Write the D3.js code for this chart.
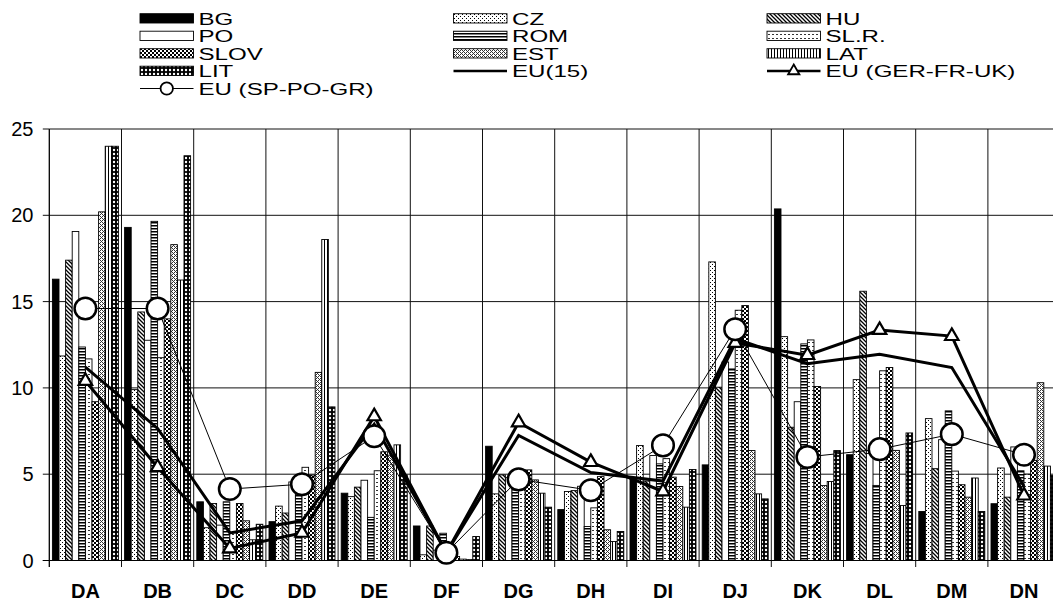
<!DOCTYPE html>
<html><head><meta charset="utf-8">
<script src="https://cdn.jsdelivr.net/npm/d3@7"></script>
<style>
html,body{margin:0;padding:0;background:#fff;}
svg{display:block;font-family:"Liberation Sans",Arial,sans-serif;}
</style></head>
<body>
<svg id="chart" width="1053" height="605"></svg>
<script>
const categories = ["DA","DB","DC","DD","DE","DF","DG","DH","DI","DJ","DK","DL","DM","DN"];
const seriesNames = ["BG","CZ","HU","PO","ROM","SL.R.","SLOV","EST","LAT","LIT"];
const yTicks = [0,5,10,15,20,25];

const BG   = [16.3,19.3,3.4,2.25,3.9,2.0,6.62,2.95,4.73,5.54,20.37,6.13,2.84,3.29];
const CZ   = [11.85,9.9,1.9,3.15,3.7,0.33,3.86,4.0,6.66,17.3,12.97,10.48,8.22,5.36];
const HU   = [17.4,14.4,3.3,2.75,4.25,2.0,4.96,4.05,4.6,10.04,7.72,15.6,5.32,3.67];
const PO   = [19.06,12.76,2.05,4.55,4.65,0.6,4.8,4.3,6.08,11.5,9.2,6.2,7.0,6.58];
const ROM  = [12.37,19.65,3.4,4.2,2.5,1.58,5.0,1.97,5.6,11.1,12.55,4.35,8.67,5.2];
const SLR  = [11.68,11.75,1.6,5.4,5.2,0.5,4.9,3.05,5.9,14.5,12.78,10.99,5.18,5.0];
const SLOV = [9.2,14.0,3.3,4.95,6.3,0.23,5.25,4.86,4.83,14.77,10.08,11.18,4.39,5.8];
const EST  = [20.2,18.3,2.3,10.9,6.1,0.08,4.67,1.78,4.29,6.37,4.34,6.38,3.67,10.3];
const LAT  = [24.0,16.25,1.2,18.6,6.7,0.05,3.9,1.1,3.09,3.86,4.58,3.19,4.78,5.47];
const LIT  = [24.0,23.45,2.1,8.9,4.95,1.39,3.09,1.68,5.27,3.57,6.37,7.39,2.84,4.93];

const EU15   = [11.2,7.65,1.6,2.3,7.9,0.45,7.25,5.1,4.6,12.85,11.4,11.95,11.18,4.3];
const EU_GFU = [10.4,5.4,0.7,1.6,8.35,0.45,8.0,5.7,4.0,12.6,11.9,13.35,13.0,3.76];
const EU_SPG = [14.6,14.6,4.14,4.42,7.2,0.45,4.7,4.07,6.67,13.4,6.0,6.45,7.32,6.13];

const barSeries = [BG,CZ,HU,PO,ROM,SLR,SLOV,EST,LAT,LIT];
const fills = ["#000","url(#pCZ)","url(#pHU)","#fff","url(#pROM)","url(#pSLR)","url(#pSLOV)","url(#pEST)","url(#pLAT)","url(#pLIT)"];

const svg = d3.select("#chart");
const defs = svg.append("defs");
function pat(id,w,h,bg,draw){
  const p = defs.append("pattern").attr("id",id).attr("patternUnits","userSpaceOnUse")
    .attr("width",w).attr("height",h);
  p.append("rect").attr("width",w).attr("height",h).attr("fill",bg);
  draw(p);
}
pat("pCZ",4,4,"#fff",p=>{
  p.append("rect").attr("x",0).attr("y",0).attr("width",1).attr("height",1).attr("fill","#000");
  p.append("rect").attr("x",2).attr("y",2).attr("width",1).attr("height",1).attr("fill","#000");
});
pat("pHU",4,4,"#fff",p=>{
  p.append("path").attr("d","M-1,-1L5,5M-1,3L1,5M3,-1L5,1").attr("stroke","#000").attr("stroke-width",1.3);
});
pat("pROM",3,3,"#fff",p=>{
  p.append("rect").attr("x",0).attr("y",0).attr("width",3).attr("height",1.5).attr("fill","#000");
});
pat("pSLR",4,4,"#fff",p=>{
  p.append("rect").attr("x",0).attr("y",2).attr("width",2).attr("height",0.8).attr("fill","#000");
});
pat("pSLOV",4,4,"#fff",p=>{
  p.append("rect").attr("x",0).attr("y",0).attr("width",2).attr("height",2).attr("fill","#000");
  p.append("rect").attr("x",2).attr("y",2).attr("width",2).attr("height",2).attr("fill","#000");
});
pat("pEST",4,4,"#fff",p=>{
  [[0,0],[1,1],[2,2],[3,3],[2,0],[0,2]].forEach(([x,y])=>
    p.append("rect").attr("x",x).attr("y",y).attr("width",0.9).attr("height",0.9).attr("fill","#000"));
});
pat("pLAT",3,3,"#fff",p=>{
  p.append("rect").attr("x",0).attr("y",0).attr("width",1).attr("height",3).attr("fill","#000");
});
pat("pLIT",4,4,"#000",p=>{
  p.append("circle").attr("cx",2).attr("cy",2).attr("r",1.2).attr("fill","#fff");
});

const x0 = 49.3, bandW = 72.2;
const x = d3.scaleBand().domain(categories).range([x0, x0 + bandW*categories.length]).padding(0);
const xs = d3.scaleBand().domain(seriesNames).range([3.1, bandW-3.1]).padding(0);
const y = d3.scaleLinear().domain([0,25]).range([560.5,129]);

// gridlines
const g = svg.append("g");
g.selectAll("line.h").data(yTicks).enter().append("line")
  .attr("x1",x0).attr("x2",1053).attr("y1",d=>y(d)).attr("y2",d=>y(d))
  .attr("stroke","#111").attr("stroke-width",1);
const bounds = categories.map(c=>x(c));
g.selectAll("line.v").data(bounds).enter().append("line")
  .attr("x1",d=>d).attr("x2",d=>d).attr("y1",y(25)).attr("y2",y(0)+6.5)
  .attr("stroke","#111").attr("stroke-width",1);
// y ticks
g.selectAll("line.yt").data(yTicks).enter().append("line")
  .attr("x1",x0-6.5).attr("x2",x0).attr("y1",d=>y(d)).attr("y2",d=>y(d))
  .attr("stroke","#111");
g.selectAll("text.yl").data(yTicks).enter().append("text")
  .attr("x",33.5).attr("y",d=>y(d)).attr("dy","0.35em").attr("text-anchor","end")
  .attr("font-size",20).text(d=>d);

// bars
const bars = svg.append("g");
barSeries.forEach((vals,si)=>{
  bars.selectAll(null).data(vals).enter().append("rect")
    .attr("x",(d,i)=>x(categories[i])+xs(seriesNames[si]))
    .attr("width",xs.bandwidth())
    .attr("y",d=>y(d))
    .attr("height",d=>y(0)-y(d))
    .attr("fill",fills[si]).attr("stroke","#000").attr("stroke-width",0.9);
});
// baseline
svg.append("line").attr("x1",x0-6.5).attr("x2",1053).attr("y1",y(0)).attr("y2",y(0)).attr("stroke","#000");
svg.append("line").attr("x1",x0).attr("x2",x0).attr("y1",y(25)).attr("y2",y(0)+6.5).attr("stroke","#000");

// category labels
svg.selectAll("text.cat").data(categories).enter().append("text")
  .attr("x",d=>x(d)+bandW/2).attr("y",598).attr("text-anchor","middle")
  .attr("font-size",20).attr("font-weight","bold").text(d=>d);

// lines
const cx = i => x(categories[i]) + bandW/2;
const line = d3.line().x((d,i)=>cx(i)).y(d=>y(d));
svg.append("path").datum(EU15).attr("d",line).attr("fill","none").attr("stroke","#000").attr("stroke-width",3);
svg.append("path").datum(EU_GFU).attr("d",line).attr("fill","none").attr("stroke","#000").attr("stroke-width",3);
svg.append("path").datum(EU_SPG).attr("d",line).attr("fill","none").attr("stroke","#000").attr("stroke-width",1);
const tri = d3.symbol().type(d3.symbolTriangle).size(78);
svg.selectAll(null).data(EU_GFU).enter().append("path")
  .attr("d",tri).attr("transform",(d,i)=>`translate(${cx(i)},${y(d)})`)
  .attr("fill","#fff").attr("stroke","#000").attr("stroke-width",2.2);
svg.selectAll(null).data(EU_SPG).enter().append("circle")
  .attr("cx",(d,i)=>cx(i)).attr("cy",d=>y(d)).attr("r",10.8)
  .attr("fill","#fff").attr("stroke","#000").attr("stroke-width",2.5);

// legend
const legendItems = [
  {name:"BG",type:"bar",fill:fills[0]},{name:"CZ",type:"bar",fill:fills[1]},{name:"HU",type:"bar",fill:fills[2]},
  {name:"PO",type:"bar",fill:fills[3]},{name:"ROM",type:"bar",fill:fills[4]},{name:"SL.R.",type:"bar",fill:fills[5]},
  {name:"SLOV",type:"bar",fill:fills[6]},{name:"EST",type:"bar",fill:fills[7]},{name:"LAT",type:"bar",fill:fills[8]},
  {name:"LIT",type:"bar",fill:fills[9]},{name:"EU(15)",type:"line"},{name:"EU (GER-FR-UK)",type:"tri"},
  {name:"EU (SP-PO-GR)",type:"circ"}
];
const colX = [140,453.5,767];
const swW = 53.5;
const rowBase = [24.5,42,59.5,77,94.5];
const lg = svg.append("g");
legendItems.forEach((it,i)=>{
  const c = i%3, r = Math.floor(i/3);
  const sx = colX[c], b = rowBase[r];
  const mid = b-6;
  if(it.type==="bar"){
    lg.append("rect").attr("x",sx).attr("y",mid-4.8).attr("width",swW).attr("height",9.3)
      .attr("fill",it.fill).attr("stroke","#000").attr("stroke-width",0.9);
  } else {
    lg.append("line").attr("x1",sx).attr("x2",sx+swW).attr("y1",mid).attr("y2",mid)
      .attr("stroke","#000").attr("stroke-width",it.type==="circ"?1.2:2.5);
    if(it.type==="tri") lg.append("path").attr("d",d3.symbol().type(d3.symbolTriangle).size(55))
      .attr("transform",`translate(${sx+swW/2},${mid})`).attr("fill","#fff").attr("stroke","#000").attr("stroke-width",1.8);
    if(it.type==="circ") lg.append("circle").attr("cx",sx+swW/2).attr("cy",mid).attr("r",6.2)
      .attr("fill","#fff").attr("stroke","#000").attr("stroke-width",1.8);
  }
  lg.append("text").attr("transform",`translate(${sx+swW+5},${b}) scale(1.46,1)`)
    .attr("font-size",16.5).text(it.name);
});
</script>
</body></html>
